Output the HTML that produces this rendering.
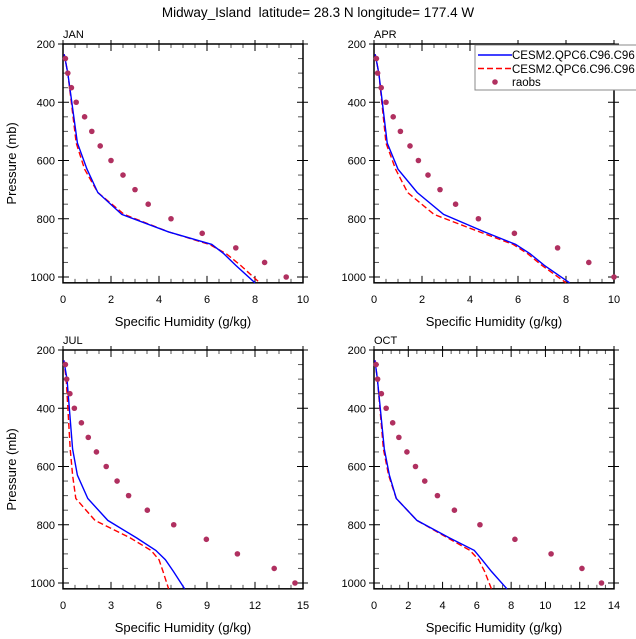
<!DOCTYPE html>
<html><head><meta charset="utf-8"><style>
body{margin:0;background:#fff;}
svg{display:block;font-family:"Liberation Sans",Arial,sans-serif;}
</style></head><body>
<svg id="c" width="636" height="639" viewBox="0 0 636 639">
<text x="318" y="17" text-anchor="middle" font-size="13.5" style="white-space:pre">Midway_Island  latitude= 28.3 N longitude= 177.4 W</text>
</svg>
<script>
const panelNames = ["JAN","APR","JUL","OCT"];
const xMaxes = [10,10,15,14];
const xTickLists = [[0,2,4,6,8,10],[0,2,4,6,8,10],[0,3,6,9,12,15],[0,2,4,6,8,10,12,14]];
const yTicks = [200,400,600,800,1000];
const raobsP = [250,300,350,400,450,500,550,600,650,700,750,800,850,900,950,1000];
const raobsJAN = [0.1,0.2,0.35,0.55,0.9,1.2,1.55,2.0,2.5,3.0,3.55,4.5,5.8,7.2,8.4,9.3];
const raobsAPR = [0.1,0.15,0.3,0.5,0.8,1.1,1.5,1.85,2.25,2.75,3.4,4.35,5.85,7.65,8.95,10.0];
const raobsJUL = [0.15,0.23,0.43,0.71,1.15,1.58,2.09,2.7,3.38,4.1,5.27,6.92,8.96,10.9,13.2,14.5];
const raobsOCT = [0.12,0.21,0.43,0.71,1.09,1.45,1.92,2.42,2.96,3.7,4.69,6.18,8.22,10.33,12.13,13.27];
const modelP = [235,300,540,630,710,785,845,888,920,960,1020];
const blueJAN = [0.05,0.2,0.6,1.0,1.45,2.45,4.4,6.2,6.7,7.2,8.0];
const redJAN  = [0.05,0.2,0.55,0.9,1.45,2.55,4.4,6.1,6.8,7.4,8.2];
const blueAPR = [0.05,0.2,0.55,1.0,1.8,2.9,4.6,5.9,6.5,7.1,8.15];
const redAPR  = [0.05,0.2,0.5,0.9,1.4,2.5,4.4,5.8,6.4,7.0,8.0];
const blueJUL = [0.05,0.25,0.6,0.9,1.55,2.8,4.6,5.8,6.4,6.9,7.6];
const redJUL  = [0.05,0.2,0.45,0.6,0.8,2.0,4.2,5.5,6.0,6.25,6.6];
const blueOCT = [0.05,0.2,0.6,0.9,1.3,2.5,4.4,5.85,6.3,6.85,7.75];
const redOCT  = [0.05,0.2,0.55,0.85,1.3,2.5,4.3,5.6,6.1,6.45,6.85];
const raobsAll=[raobsJAN,raobsAPR,raobsJUL,raobsOCT];
const blueAll=[blueJAN,blueAPR,blueJUL,blueOCT];
const redAll=[redJAN,redAPR,redJUL,redOCT];

const NS="http://www.w3.org/2000/svg";
const svg=document.getElementById('c');
function mk(tag,attrs,parent,txt){const e=document.createElementNS(NS,tag);for(const k in attrs)e.setAttribute(k,attrs[k]);if(txt!==undefined)e.textContent=txt;(parent||svg).appendChild(e);return e;}
const lefts=[63,374,63,374], tops=[44,44,350,350], W=240;
panelNames.forEach((nm,i)=>{
  const L=lefts[i], T=tops[i], xm=xMaxes[i];
  const ys=p=>T+(p-200)*(233/800);
  const xs=v=>L+v*W/xm;
  const B=ys(1020);
  const g=mk('g',{});
  
  
  let t=mk('text',{x:L,y:T-6,'font-size':11},g,nm);
   
  for(let p=200;p<=1000;p+=50){ if(p%200===0)continue;
    mk('line',{x1:L,x2:L+5,y1:ys(p),y2:ys(p),stroke:'#555','stroke-width':1},g);
    mk('line',{x1:L+W,x2:L+W-5,y1:ys(p),y2:ys(p),stroke:'#555','stroke-width':1},g);}
  yTicks.forEach(p=>{
    mk('line',{x1:L-5,x2:L+6,y1:ys(p),y2:ys(p),stroke:'#000','stroke-width':1},g);
    mk('line',{x1:L+W-6,x2:L+W+5,y1:ys(p),y2:ys(p),stroke:'#000','stroke-width':1},g);
    const tt=mk('text',{x:L-8,y:ys(p)+4,'font-size':11,'text-anchor':'end'},g,String(p));
     
  });
  const xt=xTickLists[i], step=xt[1]-xt[0];
  for(let k=0;k<xt.length-1;k++){for(let m=1;m<4;m++){const v=xt[k]+step*m/4;
    mk('line',{x1:xs(v),x2:xs(v),y1:T,y2:T+4,stroke:'#555'},g);
    mk('line',{x1:xs(v),x2:xs(v),y1:B,y2:B-4,stroke:'#555'},g);}}
  xt.forEach(v=>{
    mk('line',{x1:xs(v),x2:xs(v),y1:T-4,y2:T+7,stroke:'#000'},g);
    mk('line',{x1:xs(v),x2:xs(v),y1:B-7,y2:B,stroke:'#000'},g);
    const tt=mk('text',{x:xs(v),y:B+20,'font-size':11,'text-anchor':'middle'},g,String(v));
     
  });
  mk('rect',{x:L,y:T,width:W,height:B-T,fill:'none',stroke:'#000','stroke-width':1.5},g);
  t=mk('text',{x:L+W/2,y:B+43,'font-size':13,'text-anchor':'middle'},g,'Specific Humidity (g/kg)');
   
  if(i%2===0){
    const cy=(T+B)/2;
    t=mk('text',{x:16,y:cy,'font-size':13,'text-anchor':'middle',transform:`rotate(-90 16 ${cy})`},g,'Pressure (mb)');
     
  }
  const lineOf=arr=>arr.map((v,k)=>xs(v).toFixed(1)+','+ys(modelP[k]).toFixed(1)).join(' ');
  let pl=mk('polyline',{points:lineOf(redAll[i]),fill:'none',stroke:'#f00','stroke-width':1.4,'stroke-dasharray':'6 3'},g);
   
  pl=mk('polyline',{points:lineOf(blueAll[i]),fill:'none',stroke:'#00f','stroke-width':1.4},g);
   
  raobsAll[i].forEach((v,k)=>{
    const c=mk('circle',{cx:xs(v),cy:ys(raobsP[k]),r:2.8,fill:'#b03060'},g);
     
  });
});
const lg=mk('g',{});
 
mk('rect',{x:475,y:45,width:170,height:45,fill:'#fff',stroke:'#888','stroke-width':1},lg);
mk('line',{x1:478,x2:512,y1:55,y2:55,stroke:'#00f','stroke-width':1.4},lg);
mk('line',{x1:478,x2:512,y1:68.5,y2:68.5,stroke:'#f00','stroke-width':1.4,'stroke-dasharray':'6 3'},lg);
mk('circle',{cx:495,cy:82,r:2.8,fill:'#b03060'},lg);
let le=mk('text',{x:512,y:59,'font-size':11.5},lg,'CESM2.QPC6.C96.C96');
 
le=mk('text',{x:512,y:73,'font-size':11.5},lg,'CESM2.QPC6.C96.C96');
 
le=mk('text',{x:512,y:86,'font-size':11.5},lg,'raobs');
 
</script>
</body></html>
